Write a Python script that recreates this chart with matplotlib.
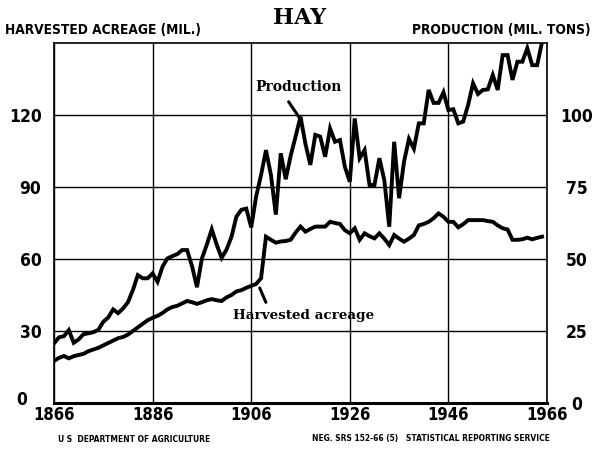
import numpy as np
import matplotlib
matplotlib.use('Agg')
import matplotlib.pyplot as plt

years = list(range(1866, 1966))

# harvested acreage, million acres
acreage = [17.5, 18.8, 19.6, 18.6, 19.5, 20.0, 20.5, 21.6, 22.3, 23.0,
           24.0, 25.0, 26.0, 27.0, 27.5, 28.5, 30.0, 31.5, 33.0, 34.5,
           35.5, 36.3, 37.5, 39.0, 40.0, 40.5, 41.5, 42.5, 42.0, 41.3,
           42.0, 42.8, 43.3, 42.8, 42.5, 44.0, 45.0, 46.5, 47.0, 48.0,
           48.8, 49.6, 52.0, 69.3, 68.0, 66.8, 67.3, 67.5, 68.0, 71.0,
           73.5, 71.4, 72.5, 73.5, 73.5, 73.5, 75.5, 75.0, 74.6, 72.0,
           70.7, 72.8, 68.0, 70.7, 69.5, 68.6, 70.7, 68.5, 65.8, 70.0,
           68.5, 67.2, 68.5, 70.0, 74.0, 74.6, 75.5, 77.0, 79.0, 77.6,
           75.5, 75.5, 73.2, 74.5, 76.2, 76.2, 76.2, 76.2, 75.8, 75.5,
           74.0, 72.8, 72.3, 68.0, 68.0, 68.2, 68.9, 68.2, 68.8, 69.3]

# production, million tons
production = [20.7, 22.8, 23.2, 25.3, 20.9, 22.1, 23.9, 24.2, 24.6, 25.4,
              28.2, 29.7, 32.5, 31.2, 32.8, 35.0, 39.2, 44.4, 43.3, 43.3,
              45.0, 42.1, 47.3, 50.2, 51.0, 51.7, 53.1, 53.1, 47.5, 40.2,
              50.2, 55.0, 60.3, 55.0, 50.4, 53.3, 57.7, 64.7, 67.1, 67.5,
              61.0, 71.7, 79.2, 87.8, 79.2, 65.4, 86.7, 77.7, 85.8, 92.5,
              99.4, 90.0, 82.7, 93.1, 92.5, 85.5, 95.3, 90.7, 91.3, 82.0,
              76.8, 98.8, 85.0, 87.8, 75.7, 75.7, 85.0, 77.4, 61.2, 90.7,
              71.1, 83.8, 91.7, 88.3, 97.1, 97.1, 108.7, 104.2, 104.2, 107.9,
              101.7, 102.0, 97.1, 97.7, 103.5, 111.0, 107.3, 108.7, 108.9, 113.9,
              108.7, 120.8, 120.8, 112.2, 118.5, 118.5, 123.2, 117.3, 117.3, 125.4]

x_ticks = [1866, 1886, 1906, 1926, 1946, 1966]
left_ticks = [30, 60, 90, 120]
right_ticks = [0, 25, 50, 75, 100]

sans = dict(family='DejaVu Sans', fontstretch='condensed', fontweight='bold')
serif = dict(family='DejaVu Serif', fontweight='heavy')

fig = plt.figure(figsize=(6.03, 4.51), dpi=100)
ax = fig.add_axes([54/603, 1-403/451, 493/603, 360/451])
ax2 = ax.twinx()

ax.plot(years, acreage, color='black', lw=2.8, solid_joinstyle='miter')
ax2.plot(years, production, color='black', lw=2.8, solid_joinstyle='miter')

ax.set_xlim(1866, 1966)
ax.set_ylim(0, 150)
ax2.set_ylim(0, 125)

ax.set_xticks(x_ticks)
ax.set_yticks(left_ticks)
ax2.set_yticks(right_ticks)
ax.grid(True, color='black', lw=1.0)
ax.set_axisbelow(True)

for sp in ax.spines.values():
    sp.set_color('black')
    sp.set_linewidth(1.2)
ax.spines['bottom'].set_linewidth(2.2)
for sp in ax2.spines.values():
    sp.set_visible(False)

ax.tick_params(axis='both', length=0)
ax2.tick_params(axis='y', length=0, pad=21.5)
ax.tick_params(axis='y', pad=9)
ax.tick_params(axis='x', pad=2)

for lab in ax.get_xticklabels() + ax.get_yticklabels() + ax2.get_yticklabels():
    lab.set_family(sans['family'])
    lab.set_fontstretch('condensed')
    lab.set_fontweight('bold')
    lab.set_fontsize(12.5)
for lab in ax.get_xticklabels():
    lab.set_fontsize(12)
for lab in ax2.get_yticklabels():
    lab.set_horizontalalignment('center')

# zero at the lower left corner
fig.text(22/603, 1-400/451, '0', ha='center', va='center', fontsize=12.5, **sans)

fig.text(300/603, 1-18/451, 'HAY', ha='center', va='center', fontsize=16, **serif)
fig.text(5/603, 1-30/451, 'HARVESTED ACREAGE (MIL.)', ha='left', va='center',
         fontsize=9.8, **sans)
fig.text(591/603, 1-30/451, 'PRODUCTION (MIL. TONS)', ha='right', va='center',
         fontsize=9.8, **sans)

ax.annotate('Production', xy=(1915.9, 118.5), xytext=(1906.8, 131.5),
            ha='left', va='center', fontsize=10, **serif,
            arrowprops=dict(arrowstyle='-', color='black', lw=2.2,
                            shrinkA=4, shrinkB=0, relpos=(0.33, 0.0)))
ax.annotate('Harvested acreage', xy=(1907.5, 49.0), xytext=(1902.4, 36.5),
            ha='left', va='center', fontsize=9.7, **serif,
            arrowprops=dict(arrowstyle='-', color='black', lw=2.2,
                            shrinkA=3, shrinkB=2, relpos=(0.25, 1.0)))

fig.text(58/603, 1-439/451, 'U S  DEPARTMENT OF AGRICULTURE', ha='left', va='center',
         fontsize=6, **sans)
fig.text(312/603, 1-439/451, 'NEG. SRS 152-66 (5)   STATISTICAL REPORTING SERVICE',
         ha='left', va='center', fontsize=6, **sans)

fig.savefig('out.png', dpi=100)
